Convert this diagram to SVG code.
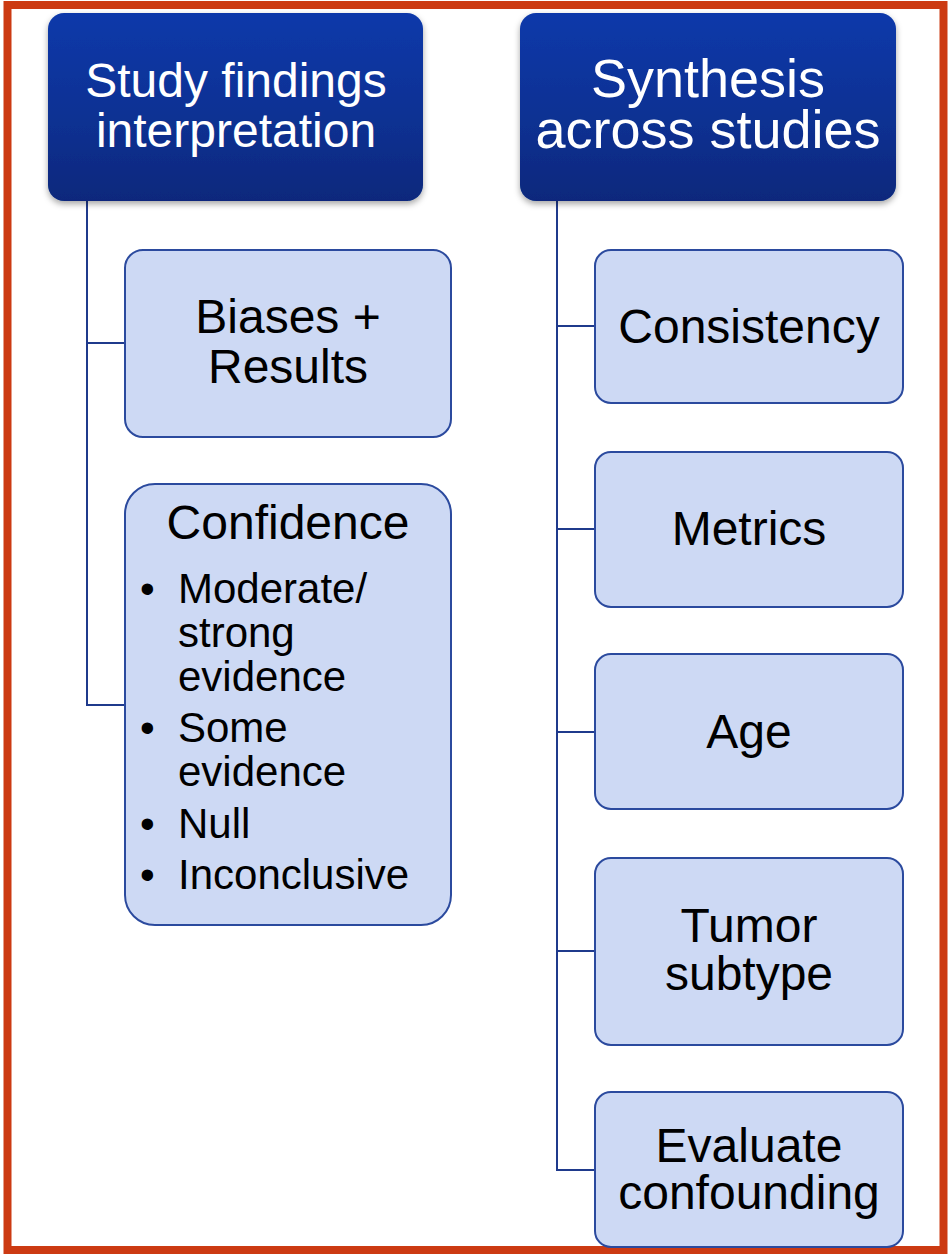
<svg xmlns="http://www.w3.org/2000/svg" width="948" height="1254" viewBox="0 0 948 1254">
<defs>
<linearGradient id="hdr" x1="0" y1="0" x2="0" y2="1">
<stop offset="0" stop-color="#0b39aa"/>
<stop offset="0.6" stop-color="#0a3091"/>
<stop offset="1" stop-color="#07287c"/>
</linearGradient>
<filter id="sh" x="-10%" y="-10%" width="120%" height="130%">
<feDropShadow dx="0" dy="3" stdDeviation="3" flood-color="#000" flood-opacity="0.35"/>
</filter>
<style>
.hdr{fill:url(#hdr);filter:url(#sh)}
.hdrt{fill:#fff;font-family:"Liberation Sans",Arial,sans-serif;text-anchor:middle}
.box{fill:#cdd9f4;stroke:#2b4a9e;stroke-width:2}
.t{fill:#000;font-family:"Liberation Sans",Arial,sans-serif;font-size:48px;text-anchor:middle}
.b{fill:#000;font-family:"Liberation Sans",Arial,sans-serif;font-size:42px}
.con{fill:none;stroke:#1f3a8c;stroke-width:2}
</style>
</defs>
<rect x="0" y="0" width="948" height="1254" fill="#fff"/>
<rect x="7.5" y="5" width="936" height="1245" fill="none" stroke="#cc3a12" stroke-width="8"/>
<g id="connectors">
<path class="con" d="M87 201 V705 H125 M87 343 H125"/>
<path class="con" d="M557 201 V1170 H595 M557 326 H595 M557 529 H595 M557 732 H595 M557 951 H595"/>
</g>
<g id="study-findings">
<rect class="hdr" x="48" y="13" width="375" height="188" rx="16"/>
<text class="hdrt" font-size="48" x="236" y="97">Study findings</text>
<text class="hdrt" font-size="48" x="236" y="147">interpretation</text>
</g>
<g id="synthesis">
<rect class="hdr" x="520" y="13" width="376" height="188" rx="16"/>
<text class="hdrt" font-size="54" x="708" y="97">Synthesis</text>
<text class="hdrt" font-size="54" x="708" y="148">across studies</text>
</g>
<g id="biases">
<rect class="box" x="125" y="250" width="326" height="187" rx="18"/>
<text class="t" x="288" y="333">Biases +</text>
<text class="t" x="288" y="383">Results</text>
</g>
<g id="confidence">
<rect class="box" x="125" y="484" width="326" height="441" rx="30"/>
<text class="t" x="288" y="539">Confidence</text>
<text class="b" x="140" y="603">•</text>
<text class="b" x="178" y="603">Moderate/</text>
<text class="b" x="178" y="647">strong</text>
<text class="b" x="178" y="691">evidence</text>
<text class="b" x="140" y="742">•</text>
<text class="b" x="178" y="742">Some</text>
<text class="b" x="178" y="786">evidence</text>
<text class="b" x="140" y="838">•</text>
<text class="b" x="178" y="838">Null</text>
<text class="b" x="140" y="889">•</text>
<text class="b" x="178" y="889">Inconclusive</text>
</g>
<g id="consistency">
<rect class="box" x="595" y="250" width="308" height="153" rx="16"/>
<text class="t" x="749" y="343">Consistency</text>
</g>
<g id="metrics">
<rect class="box" x="595" y="452" width="308" height="155" rx="16"/>
<text class="t" x="749" y="545">Metrics</text>
</g>
<g id="age">
<rect class="box" x="595" y="654" width="308" height="155" rx="16"/>
<text class="t" x="749" y="748">Age</text>
</g>
<g id="tumor">
<rect class="box" x="595" y="858" width="308" height="187" rx="16"/>
<text class="t" x="749" y="942">Tumor</text>
<text class="t" x="749" y="990">subtype</text>
</g>
<g id="confounding">
<rect class="box" x="595" y="1092" width="308" height="155" rx="16"/>
<text class="t" x="749" y="1162">Evaluate</text>
<text class="t" x="749" y="1209">confounding</text>
</g>
</svg>
